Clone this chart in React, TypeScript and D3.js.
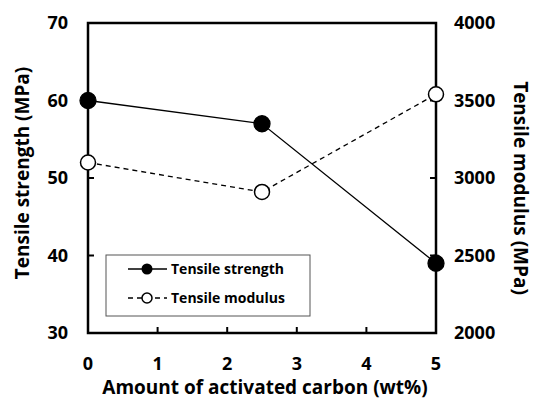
import React from 'react';
import * as d3 from 'd3';

const carbon = [0, 2.5, 5];
const strength = [60, 57, 39];
const modulus = [3100, 2910, 3540];
const xTicks = [0, 1, 2, 3, 4, 5];
const leftTicks = [30, 40, 50, 60, 70];
const rightTicks = [2000, 2500, 3000, 3500, 4000];

const FONT = "'Open Sans', 'Noto Sans', sans-serif";

export default function App() {
  const width = 536;
  const height = 401;
  const m = { left: 88, right: 100, top: 23, bottom: 68 };
  const x = d3.scaleLinear().domain([0, 5]).range([m.left, width - m.right]);
  const yL = d3.scaleLinear().domain([30, 70]).range([height - m.bottom, m.top]);
  const yR = d3.scaleLinear().domain([2000, 4000]).range([height - m.bottom, m.top]);

  const lineS = d3.line<number>().x((_, i) => x(carbon[i])).y((d) => yL(d));
  const lineM = d3.line<number>().x((_, i) => x(carbon[i])).y((d) => yR(d));

  const x0 = x(0), x1 = x(5), yTop = yL(70), yBot = yL(30);

  return (
    <svg width={width} height={height} style={{ position: 'absolute', left: 0, top: 0 }} fontFamily={FONT}>
      <rect x={0} y={0} width={width} height={height} fill="#fff" />
      {/* data lines */}
      <path d={lineS(strength) || ''} fill="none" stroke="#000" strokeWidth={1.3} />
      <path d={lineM(modulus) || ''} fill="none" stroke="#000" strokeWidth={1.3} strokeDasharray="5,4" />

      {/* frame */}
      <rect x={x0} y={yTop} width={x1 - x0} height={yBot - yTop} fill="none" stroke="#000" strokeWidth={2.5} />

      {/* ticks */}
      {xTicks.map((t) => (
        <line key={'xt' + t} x1={x(t)} x2={x(t)} y1={yBot} y2={yBot - 6} stroke="#000" strokeWidth={2} />
      ))}
      {leftTicks.map((t) => (
        <line key={'lt' + t} x1={x0} x2={x0 + 6} y1={yL(t)} y2={yL(t)} stroke="#000" strokeWidth={2} />
      ))}
      {rightTicks.map((t) => (
        <line key={'rt' + t} x1={x1} x2={x1 - 6} y1={yR(t)} y2={yR(t)} stroke="#000" strokeWidth={2} />
      ))}

      {/* tick labels */}
      {xTicks.map((t) => (
        <text key={'xl' + t} x={x(t)} y={yBot + 37} textAnchor="middle" fontSize={18} fontWeight="bold">{t}</text>
      ))}
      {leftTicks.map((t) => (
        <text key={'ll' + t} x={x0 - 20} y={yL(t)} dy="0.35em" textAnchor="end" fontSize={18} fontWeight="bold">{t}</text>
      ))}
      {rightTicks.map((t) => (
        <text key={'rl' + t} x={x1 + 18} y={yR(t)} dy="0.35em" textAnchor="start" fontSize={18} fontWeight="bold">{t}</text>
      ))}

      {/* axis titles */}
      <text x={265} y={height - 7} textAnchor="middle" fontSize={19} fontWeight="bold">Amount of activated carbon (wt%)</text>
      <text transform={`translate(22,${(yTop + yBot) / 2 - 5}) rotate(-90)`} dy="0.35em" textAnchor="middle" fontSize={19} fontWeight="bold">Tensile strength (MPa)</text>
      <text transform={`translate(521,${(yTop + yBot) / 2 + 10}) rotate(90)`} dy="0.35em" textAnchor="middle" fontSize={19} fontWeight="bold">Tensile modulus (MPa)</text>

      {/* markers */}
      {strength.map((v, i) => (
        <circle key={'sm' + i} cx={x(carbon[i])} cy={yL(v)} r={8} fill="#000" stroke="#000" strokeWidth={1.3} />
      ))}
      {modulus.map((v, i) => (
        <circle key={'mm' + i} cx={x(carbon[i])} cy={yR(v)} r={7.5} fill="#fff" stroke="#000" strokeWidth={1.5} />
      ))}

      {/* legend */}
      <rect x={106} y={255} width={204} height={61} fill="#fff" stroke="#555" strokeWidth={1} />
      <line x1={128} x2={167} y1={269} y2={269} stroke="#000" strokeWidth={1.3} />
      <circle cx={147} cy={269} r={5.5} fill="#000" />
      <text x={171} y={269} dy="0.35em" fontSize={14} fontWeight="bold">Tensile strength</text>
      <line x1={128} x2={167} y1={298} y2={298} stroke="#000" strokeWidth={1.3} strokeDasharray="5,4" />
      <circle cx={147} cy={298} r={5} fill="#fff" stroke="#000" strokeWidth={1.5} />
      <text x={171} y={298} dy="0.35em" fontSize={14} fontWeight="bold">Tensile modulus</text>
    </svg>
  );
}
